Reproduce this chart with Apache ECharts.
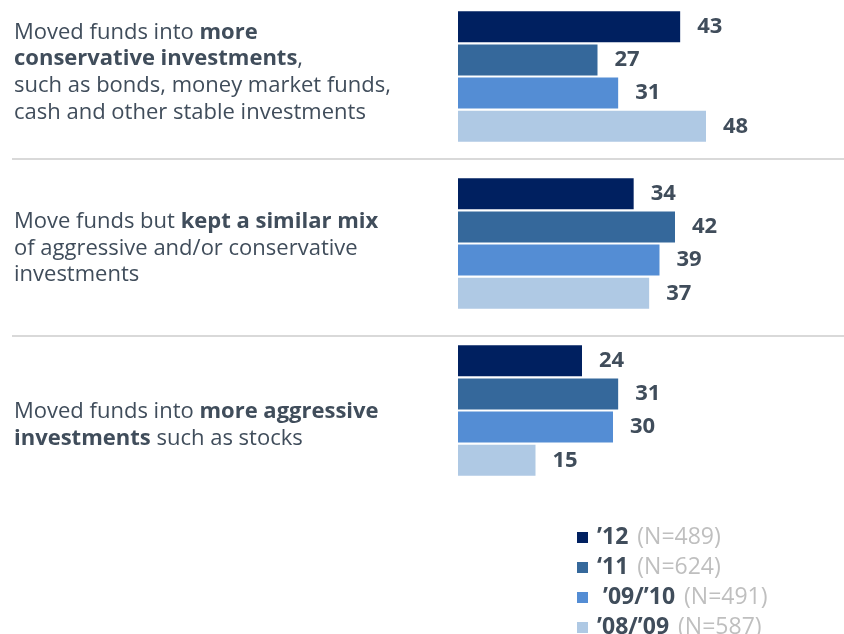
<!DOCTYPE html>
<html>
<head>
<meta charset="utf-8">
<script src="https://cdn.jsdelivr.net/npm/echarts@6/dist/echarts.min.js"></script>
<style>
  html, body { margin: 0; padding: 0; background: #fff; }
  #chart { width: 844px; height: 634px; }
</style>
</head>
<body>
<div id="chart"></div>
<script>
// Survey answers (rich-text markup marks the bold phrases)
const categories = [
  'Moved funds into {b|more}\n{b|conservative investments},\nsuch as bonds, money market funds,\ncash and other stable investments',
  'Move funds but {b|kept a similar mix}\nof aggressive and/or conservative\ninvestments',
  'Moved funds into {b|more aggressive}\n{b|investments} such as stocks'
];

// Survey waves and sample sizes
const waves = ['’12', '‘11', ' ’09/’10', '’08/’09'];
const sampleSizes = ['489', '624', '491', '587'];

// Percent of respondents, one array per wave
const values12 = [43, 34, 24];
const values11 = [27, 42, 31];
const values0910 = [31, 39, 30];
const values0809 = [48, 37, 15];

const colors = ['#002060', '#35689B', '#548DD4', '#AFC9E4'];
const textColor = '#404D5B';

const seriesValues = [values12, values11, values0910, values0809];
const nByWave = {};
waves.forEach((w, i) => { nByWave[w] = sampleSizes[i]; });

// vertical nudges for the multi-line category captions
const captionPadding = [[0, 0, 8, 0], [10, 0, 0, 0], [30, 0, 0, 0]];

const captionStyle = {
  align: 'left',
  verticalAlign: 'middle',
  color: textColor,
  fontFamily: 'Open Sans',
  fontSize: 22,
  lineHeight: 26.7,
  rich: {
    b: { fontWeight: 'bold', fontFamily: 'Open Sans', fontSize: 22, lineHeight: 26.7, color: textColor }
  }
};

const chart = echarts.init(document.getElementById('chart'));

chart.setOption({
  animation: false,
  backgroundColor: '#ffffff',
  grid: { left: 458, top: -7, width: 310, height: 501, containLabel: false, outerBoundsMode: 'none' },
  xAxis: {
    type: 'value', min: 0, max: 60,
    show: false
  },
  yAxis: {
    type: 'category',
    inverse: true,
    data: categories.map((c, i) => ({
      value: c,
      textStyle: Object.assign({}, captionStyle, { padding: captionPadding[i] })
    })),
    axisLine: { show: false },
    axisTick: { show: false },
    splitLine: { show: false },
    axisLabel: Object.assign({ margin: 444 }, captionStyle)
  },
  legend: {
    orient: 'vertical',
    left: 577,
    top: 526,
    height: 130,
    padding: 0,
    icon: 'rect',
    itemWidth: 11,
    itemHeight: 11,
    itemGap: 7,
    selectedMode: false,
    data: waves,
    formatter: name => `{y|${name}}{n|(N=${nByWave[name]})}`,
    textStyle: {
      rich: {
        y: { fontFamily: 'Open Sans', fontWeight: 'bold', fontSize: 23, color: textColor, lineHeight: 22, padding: [0, 9, 0, 4] },
        n: { fontFamily: 'Open Sans', fontSize: 23, color: '#BFBFBF', lineHeight: 22 }
      }
    }
  },
  graphic: [
    { type: 'line', shape: { x1: 12, y1: 159, x2: 844, y2: 159 }, style: { stroke: '#D9D9D9', lineWidth: 2 } },
    { type: 'line', shape: { x1: 12, y1: 336, x2: 844, y2: 336 }, style: { stroke: '#D9D9D9', lineWidth: 2 } }
  ],
  series: waves.map((w, i) => ({
    name: w,
    type: 'bar',
    data: seriesValues[i],
    barWidth: 31,
    barGap: '7%',
    itemStyle: { color: colors[i] },
    label: {
      show: true,
      position: 'right',
      distance: 17,
      color: textColor,
      fontFamily: 'Open Sans',
      fontWeight: 'bold',
      fontSize: 22
    }
  }))
});
</script>
</body>
</html>
